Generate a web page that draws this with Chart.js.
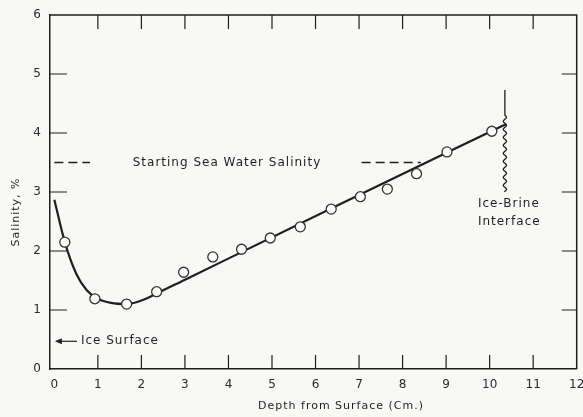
<!DOCTYPE html>
<html lang="en">
<head>
<meta charset="UTF-8">
<title>Salinity Profile</title>
<script src="https://cdn.jsdelivr.net/npm/chart.js"></script>
<style>
  html, body { margin: 0; padding: 0; background: #f8f9f7; }
  #wrap { width: 583px; height: 417px; }
</style>
</head>
<body>
<div id="wrap"><canvas id="salinity-chart"></canvas></div>
<script>
// measured samples: depth (cm) and salinity (%)
const sampleDepth = [0.24, 0.93, 1.66, 2.35, 2.97, 3.64, 4.30, 4.96, 5.65, 6.36, 7.03, 7.65, 8.32, 9.02, 10.05];
const sampleSalinity = [2.15, 1.19, 1.10, 1.31, 1.64, 1.90, 2.03, 2.22, 2.41, 2.71, 2.92, 3.05, 3.31, 3.68, 4.03];

// smoothed profile through the samples
const curveDepth = [0, 0.24, 0.50, 0.75, 1.00, 1.30, 1.66, 2.00, 2.35, 2.99, 6.50, 10.37];
const curveSalinity = [2.87, 2.15, 1.62, 1.33, 1.19, 1.12, 1.10, 1.16, 1.28, 1.51, 2.77, 4.15];

// starting sea water salinity, drawn as two dashed pieces
const seaWaterLeftDepth = [0, 0.82];
const seaWaterRightDepth = [7.06, 8.42];
const seaWaterSalinity = [3.5, 3.5];

// ice-brine interface
const interfaceDepth = 10.35;
const interfaceSalinity = [4.73, 4.30, 3.00]; // top, start of wave, bottom

const xTicks = [0, 1, 2, 3, 4, 5, 6, 7, 8, 9, 10, 11, 12];
const yTicks = [0, 1, 2, 3, 4, 5, 6];

const ink = '#1e1e1e';
const font = '"DejaVu Sans", sans-serif';

function pts(xs, ys) {
    return xs.map((x, i) => ({ x: x, y: ys[i] }));
}

// inward ticks, frame, notes and axis titles
const decorations = {
    id: 'decorations',
    afterDraw(chart) {
        const ctx = chart.ctx;
        const a = chart.chartArea;
        const xs = chart.scales.x;
        const ys = chart.scales.y;
        ctx.save();
        ctx.strokeStyle = ink;
        ctx.fillStyle = ink;

        // frame top + right
        ctx.lineWidth = 1.5;
        ctx.beginPath();
        ctx.moveTo(a.left, a.top);
        ctx.lineTo(a.right, a.top);
        ctx.lineTo(a.right, a.bottom);
        ctx.stroke();

        ctx.lineWidth = 1.2;
        xTicks.slice(1, -1).forEach(v => {
            const px = xs.getPixelForValue(v);
            ctx.beginPath();
            ctx.moveTo(px, a.bottom); ctx.lineTo(px, a.bottom - 14);
            ctx.moveTo(px, a.top); ctx.lineTo(px, a.top + 14);
            ctx.stroke();
        });
        yTicks.slice(1, -1).forEach(v => {
            const py = ys.getPixelForValue(v);
            ctx.beginPath();
            ctx.moveTo(a.left, py); ctx.lineTo(a.left + 17, py);
            ctx.moveTo(a.right, py); ctx.lineTo(a.right - 15, py);
            ctx.stroke();
        });

        // wavy interface line
        const ix = xs.getPixelForValue(interfaceDepth);
        const yTop = ys.getPixelForValue(interfaceSalinity[0]);
        const yWave = ys.getPixelForValue(interfaceSalinity[1]);
        const yBot = ys.getPixelForValue(interfaceSalinity[2]);
        ctx.lineWidth = 1.3;
        ctx.beginPath();
        ctx.moveTo(ix, yTop);
        ctx.lineTo(ix, yWave);
        for (let y = yWave; y <= yBot; y += 0.5) {
            ctx.lineTo(ix + 1.6 * Math.sin((y - yWave) / 8 * 2 * Math.PI), y);
        }
        ctx.stroke();

        // ice surface arrow
        const ay = ys.getPixelForValue(0.47);
        const tip = xs.getPixelForValue(0) + 0.5;
        const tail = xs.getPixelForValue(0.52);
        ctx.lineWidth = 1.2;
        ctx.beginPath();
        ctx.moveTo(tail, ay); ctx.lineTo(tip + 5, ay);
        ctx.stroke();
        ctx.beginPath();
        ctx.moveTo(tip, ay); ctx.lineTo(tip + 7, ay - 3); ctx.lineTo(tip + 7, ay + 3); ctx.closePath();
        ctx.fill();

        // notes
        ctx.font = '12px ' + font;
        ctx.letterSpacing = '1px';
        ctx.textBaseline = 'middle';
        ctx.textAlign = 'left';
        ctx.fillText('Ice Surface', xs.getPixelForValue(0.61), ay);
        ctx.fillText('Starting Sea Water Salinity', xs.getPixelForValue(1.80), ys.getPixelForValue(3.5));
        ctx.fillText('Ice-Brine', xs.getPixelForValue(9.73), ys.getPixelForValue(2.80));
        ctx.fillText('Interface', xs.getPixelForValue(9.73), ys.getPixelForValue(2.49));

        // axis titles
        ctx.font = '11px ' + font;
        ctx.textAlign = 'center';
        ctx.fillText('Depth from Surface (Cm.)', 341, 406);
        ctx.translate(16, 212);
        ctx.rotate(-Math.PI / 2);
        ctx.fillText('Salinity, %', 0, 0);
        ctx.restore();
    }
};

new Chart(document.getElementById('salinity-chart'), {
    type: 'line',
    data: {
        datasets: [
            {
                label: 'Samples',
                data: pts(sampleDepth, sampleSalinity),
                showLine: false,
                pointRadius: 5,
                pointBackgroundColor: '#fbfbf9',
                pointBorderColor: '#333',
                pointBorderWidth: 1.3,
                order: 0
            },
            {
                label: 'Profile',
                data: pts(curveDepth, curveSalinity),
                borderColor: ink,
                borderWidth: 2.2,
                pointRadius: 0,
                cubicInterpolationMode: 'monotone',
                order: 1
            },
            {
                label: 'Sea water (left)',
                data: pts(seaWaterLeftDepth, seaWaterSalinity),
                borderColor: ink,
                borderWidth: 1.4,
                borderDash: [9, 5],
                pointRadius: 0,
                order: 2
            },
            {
                label: 'Sea water (right)',
                data: pts(seaWaterRightDepth, seaWaterSalinity),
                borderColor: ink,
                borderWidth: 1.4,
                borderDash: [9, 5],
                pointRadius: 0,
                order: 2
            }
        ]
    },
    options: {
        responsive: true,
        maintainAspectRatio: false,
        animation: false,
        layout: { padding: { top: 15, right: 5, left: 0, bottom: 0 } },
        plugins: { legend: { display: false }, tooltip: { enabled: false } },
        scales: {
            x: {
                type: 'linear',
                min: -0.1,
                max: 12,
                afterBuildTicks: s => { s.ticks = xTicks.map(v => ({ value: v })); },
                afterFit: s => { s.height = 48; s.paddingLeft = 0; s.paddingRight = 0; },
                grid: { display: false, drawTicks: false },
                border: { color: ink, width: 1.5 },
                ticks: { color: '#2a2a2a', padding: 9, font: { family: font, size: 12 }, maxRotation: 0, autoSkip: false }
            },
            y: {
                type: 'linear',
                min: 0,
                max: 6,
                afterBuildTicks: s => { s.ticks = yTicks.map(v => ({ value: v })); },
                afterFit: s => { s.width = 50; s.paddingTop = 0; s.paddingBottom = 0; },
                grid: { display: false, drawTicks: false },
                border: { color: ink, width: 1.5 },
                ticks: { color: '#2a2a2a', padding: 9, font: { family: font, size: 12 } }
            }
        }
    },
    plugins: [decorations]
});
</script>
</body>
</html>
